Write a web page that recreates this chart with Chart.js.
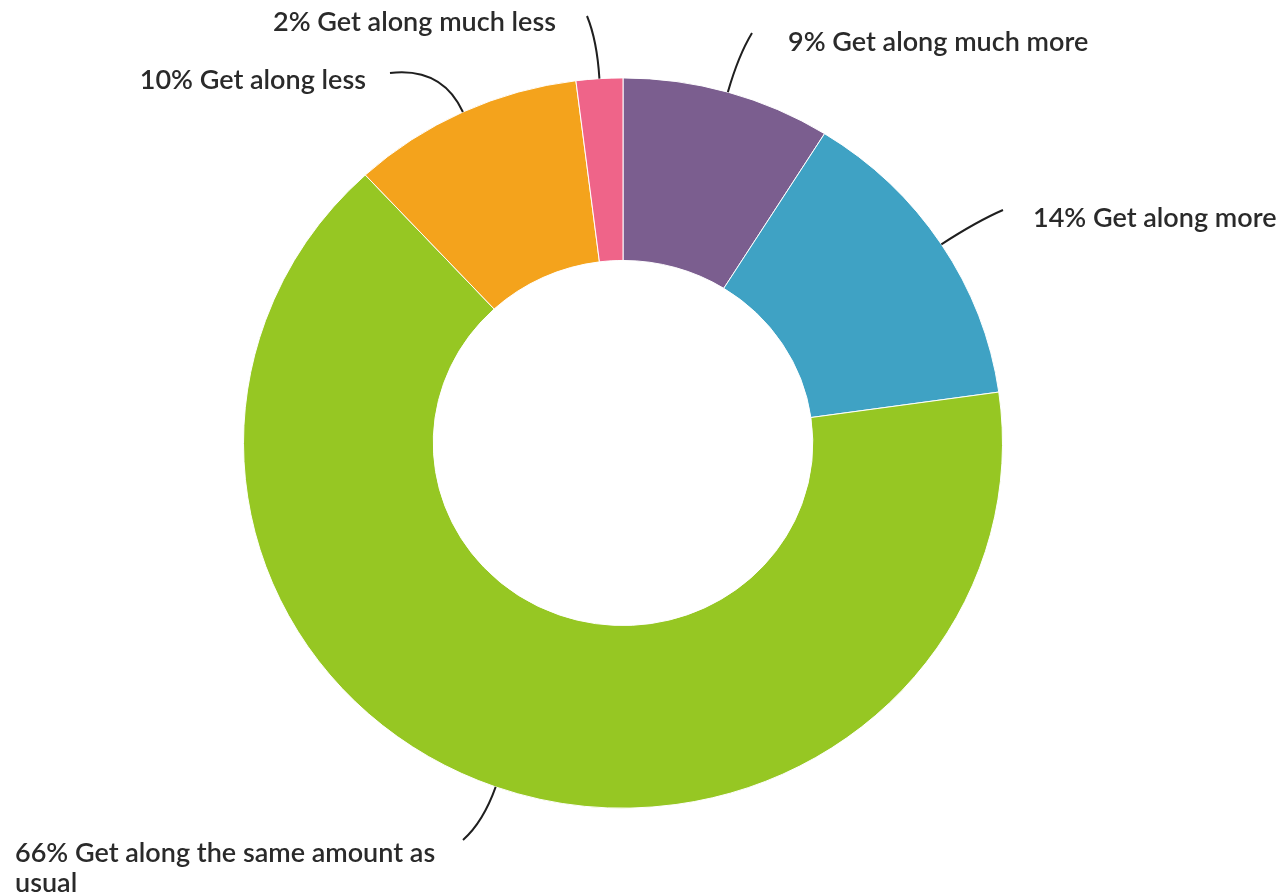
<!DOCTYPE html>
<html>
<head>
<meta charset="utf-8">
<title>Getting along</title>
<script src="https://cdn.jsdelivr.net/npm/chart.js@4"></script>
<style>
    html, body { margin: 0; padding: 0; background: #fff; }
    #wrap { width: 1283px; height: 895px; }
</style>
</head>
<body>
<div id="wrap"><canvas id="along-chart" width="1283" height="895"></canvas></div>
<script>
// Chart data
const categories = ['Get along much more', 'Get along more', 'Get along the same amount as usual', 'Get along less', 'Get along much less'];
const shares = [9, 14, 66, 10, 2];
const sliceColors = ['#7b5e8f', '#3fa2c4', '#96c723', '#f4a31c', '#ef6489'];

// ring is drawn slightly flattened vertically
const squash = 0.962;

// where each callout ends and where its text sits
const callouts = [
    { end: [752, 33], text: [788, 42], align: 'left' },
    { end: [1003, 210], text: [1033, 218], align: 'left' },
    { end: [463, 840], text: [15, 853], align: 'left', wrap: 470 },
    { end: [390, 73], text: [366, 80], align: 'right' },
    { end: [587, 16], text: [556, 22], align: 'right' }
];

const squashPlugin = {
    id: 'squash',
    beforeDatasetsDraw(chart) {
        const arc = chart.getDatasetMeta(0).data[0];
        const ctx = chart.ctx;
        ctx.save();
        ctx.translate(arc.x, arc.y);
        ctx.scale(1, squash);
        ctx.translate(-arc.x, -arc.y);
    },
    afterDatasetsDraw(chart) {
        chart.ctx.restore();
    }
};

const calloutPlugin = {
    id: 'callouts',
    afterDraw(chart) {
        const ctx = chart.ctx;
        const arcs = chart.getDatasetMeta(0).data;
        ctx.save();
        ctx.font = '600 27px Lato';
        ctx.fillStyle = '#2a2a2a';
        ctx.strokeStyle = '#1f1f1f';
        ctx.lineWidth = 2;
        ctx.textBaseline = 'middle';
        arcs.forEach((arc, i) => {
            const p = arc.getProps(['x', 'y', 'startAngle', 'endAngle', 'outerRadius'], true);
            const mid = (p.startAngle + p.endAngle) / 2;
            const dx = Math.cos(mid), dy = Math.sin(mid);
            const sx = p.x + dx * p.outerRadius;
            const sy = p.y + dy * p.outerRadius * squash;
            const c = callouts[i];
            const len = Math.hypot(c.end[0] - sx, c.end[1] - sy);
            ctx.beginPath();
            ctx.moveTo(sx, sy);
            ctx.quadraticCurveTo(sx + dx * len * 0.6, sy + dy * len * 0.6, c.end[0], c.end[1]);
            ctx.stroke();

            const text = shares[i] + '% ' + categories[i];
            let lines = [text];
            if (c.wrap) {
                lines = [];
                let cur = '';
                text.split(' ').forEach(w => {
                    const tryLine = cur ? cur + ' ' + w : w;
                    if (ctx.measureText(tryLine).width > c.wrap && cur) {
                        lines.push(cur);
                        cur = w;
                    } else {
                        cur = tryLine;
                    }
                });
                lines.push(cur);
            }
            ctx.textAlign = c.align;
            lines.forEach((ln, k) => ctx.fillText(ln, c.text[0], c.text[1] + k * 30));
        });
        ctx.restore();
    }
};

new Chart(document.getElementById('along-chart'), {
    type: 'doughnut',
    data: {
        labels: categories,
        datasets: [{
            data: shares,
            backgroundColor: sliceColors,
            borderColor: '#ffffff',
            borderWidth: 1
        }]
    },
    options: {
        responsive: false,
        animation: false,
        cutout: '50%',
        layout: { padding: { left: 243, right: 280, top: 63, bottom: 72 } },
        plugins: {
            legend: { display: false },
            tooltip: { enabled: false }
        }
    },
    plugins: [squashPlugin, calloutPlugin]
});
</script>
</body>
</html>
